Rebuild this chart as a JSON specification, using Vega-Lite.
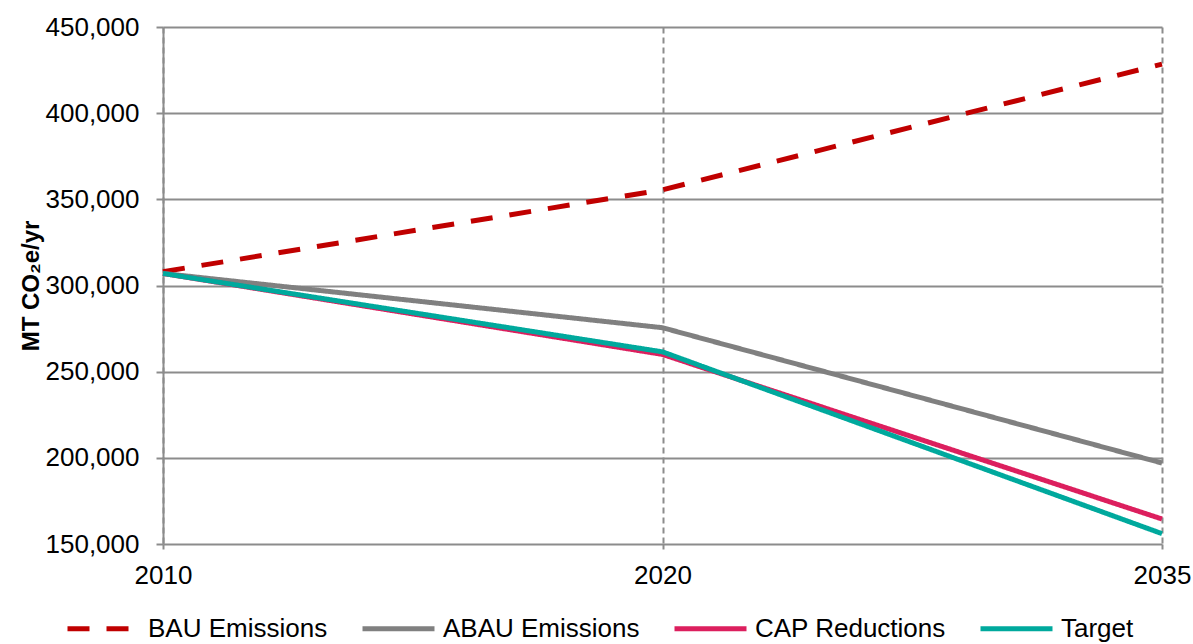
{
  "$schema": "https://vega.github.io/schema/vega-lite/v6.json",
  "autosize": "none",
  "width": 999,
  "height": 517,
  "padding": {"left": 163, "top": 27, "right": 31, "bottom": 100},
  "background": "white",
  "config": {
    "view": {"stroke": null},
    "font": "Liberation Sans",
    "axis": {"labelFont": "Liberation Sans", "labelColor": "#000000", "titleColor": "#000000"}
  },
  "data": {
    "values": [
      {"year": "2010", "series": "BAU Emissions", "value": 308000},
      {"year": "2020", "series": "BAU Emissions", "value": 355500},
      {"year": "2035", "series": "BAU Emissions", "value": 428500},
      {"year": "2010", "series": "ABAU Emissions", "value": 307000},
      {"year": "2020", "series": "ABAU Emissions", "value": 275500},
      {"year": "2035", "series": "ABAU Emissions", "value": 197000},
      {"year": "2010", "series": "CAP Reductions", "value": 307000},
      {"year": "2020", "series": "CAP Reductions", "value": 260000},
      {"year": "2035", "series": "CAP Reductions", "value": 164500},
      {"year": "2010", "series": "Target", "value": 307000},
      {"year": "2020", "series": "Target", "value": 261500},
      {"year": "2035", "series": "Target", "value": 156000}
    ]
  },
  "mark": {"type": "line", "strokeWidth": 5, "strokeCap": "butt", "strokeJoin": "miter"},
  "encoding": {
    "x": {
      "field": "year",
      "type": "ordinal",
      "scale": {"type": "point", "padding": 0},
      "axis": {
        "title": null,
        "labelAngle": 0,
        "labelFontSize": 26,
        "labelPadding": 13,
        "tickSize": 5,
        "tickColor": "#8c8c8c",
        "tickWidth": 2,
        "domain": false,
        "grid": true,
        "gridColor": "#8c8c8c",
        "gridWidth": 2,
        "gridDash": [6, 4]
      }
    },
    "y": {
      "field": "value",
      "type": "quantitative",
      "scale": {"domain": [150000, 450000], "nice": false, "zero": false},
      "axis": {
        "values": [150000, 200000, 250000, 300000, 350000, 400000, 450000],
        "format": ",.0f",
        "title": "MT CO₂e/yr",
        "titleFontSize": 24,
        "titleFontWeight": "bold",
        "titlePadding": 2,
        "labelFontSize": 26,
        "labelPadding": 17,
        "tickSize": 7,
        "tickColor": "#8c8c8c",
        "tickWidth": 2,
        "domain": true,
        "domainColor": "#8c8c8c",
        "domainWidth": 2,
        "grid": true,
        "gridColor": "#8c8c8c",
        "gridWidth": 2
      }
    },
    "color": {
      "field": "series",
      "type": "nominal",
      "sort": ["BAU Emissions", "ABAU Emissions", "CAP Reductions", "Target"],
      "scale": {
        "domain": ["BAU Emissions", "ABAU Emissions", "CAP Reductions", "Target"],
        "range": ["#C00000", "#808080", "#DC1F5E", "#00A99D"]
      },
      "legend": {
        "title": null,
        "orient": "none",
        "direction": "horizontal",
        "legendX": -98,
        "legendY": 563,
        "symbolType": "stroke",
        "symbolSize": 5184,
        "symbolStrokeWidth": 5,
        "labelFontSize": 26,
        "labelColor": "#000000",
        "labelOffset": 6,
        "columnPadding": 24,
        "padding": 0,
        "labelLimit": 400
      }
    },
    "strokeDash": {
      "field": "series",
      "type": "nominal",
      "sort": ["BAU Emissions", "ABAU Emissions", "CAP Reductions", "Target"],
      "scale": {
        "domain": ["BAU Emissions", "ABAU Emissions", "CAP Reductions", "Target"],
        "range": [[22, 17], [1, 0], [1, 0], [1, 0]]
      },
      "legend": null
    },
    "order": {"field": "series"}
  }
}
